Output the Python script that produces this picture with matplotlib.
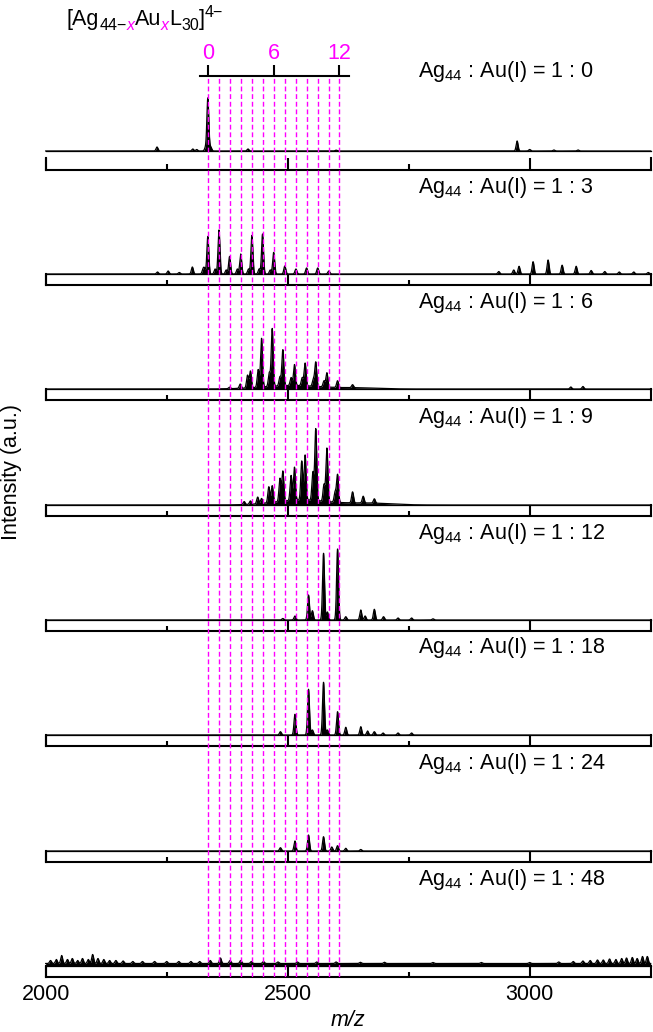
import numpy as np
import matplotlib
matplotlib.use("Agg")
import matplotlib.pyplot as plt

plt.rcParams['font.family'] = ['Liberation Sans', 'DejaVu Sans']
plt.rcParams['mathtext.fontset'] = 'custom'
plt.rcParams['mathtext.rm'] = 'Liberation Sans'
plt.rcParams['mathtext.it'] = 'Liberation Sans:italic'

# ---------------- data ----------------
ratios = ["1 : 0", "1 : 3", "1 : 6", "1 : 9", "1 : 12", "1 : 18", "1 : 24", "1 : 48"]
au_pos = [2335, 2358, 2380, 2403, 2426, 2448, 2471, 2494, 2517, 2539, 2562, 2585, 2607]
au_labels = ["0", "6", "12"]
xticks_major = [2000, 2500, 3000]
xticks_minor = [2250, 2750]

p1_mz = [2230, 2304, 2312, 2330, 2335, 2341, 2418, 2600, 2974, 3000, 3050, 3100]
p1_int = [4, 2, 1.5, 3, 53, 4, 2, 0.8, 10, 1.5, 1, 1]

p2_mz = [2231, 2253, 2276, 2303, 2325, 2328, 2335, 2350, 2358, 2373, 2380, 2396, 2403,
         2419, 2426, 2441, 2448, 2464, 2471, 2494, 2517, 2539, 2562, 2585,
         2936, 2967, 2978, 3007, 3038, 3067, 3096, 3127, 3155, 3185, 3215, 3245]
p2_int = [2, 3, 1.5, 7, 4, 5, 37.6, 5, 44, 4, 17.6, 5, 20,
          5, 38.6, 5, 40, 4, 21.6, 8, 5, 6, 6, 3,
          2.5, 4, 7.7, 12.3, 14, 8.8, 7.7, 3.5, 2.5, 2, 2, 1.5]

p3_mz = [2380, 2402, 2417, 2423, 2439, 2446, 2462, 2468, 2484, 2490, 2507, 2514, 2530,
         2536, 2553, 2558, 2575, 2581, 2603, 2634, 3085, 3110]
p3_int = [1.5, 4.3, 12.7, 16.7, 17.7, 48.7, 13.7, 57.7, 9, 36, 8, 21, 8,
          22.7, 7, 24.3, 6, 14.3, 6.7, 3, 2, 2.5]
p3_hump_mz = [2510, 2650]
p3_hump_int = [3.5, 1.0]
p3_hump_wd = [60, 40]

p4_mz = [2410, 2423, 2438, 2446, 2461, 2468, 2484, 2490, 2507, 2514, 2529, 2536, 2552,
         2558, 2575, 2581, 2598, 2603, 2634, 2656, 2679]
p4_int = [3, 3.3, 6.7, 5, 16, 16.7, 23, 30, 25, 33, 39, 45, 28,
          71.7, 16.7, 53.3, 10, 27.7, 11, 6.7, 4.3]
p4_hump_mz = [2530, 2670]
p4_hump_int = [5, 1.8]
p4_hump_wd = [55, 45]

p5_mz = [2490, 2515, 2543, 2551, 2574, 2582, 2603, 2620, 2651, 2660, 2679, 2698, 2728, 2756, 2800]
p5_int = [1.5, 4, 25, 9.3, 66.7, 8, 71, 3.3, 10, 4, 10.7, 3.3, 2, 2, 1.2]

p6_mz = [2485, 2515, 2543, 2551, 2574, 2582, 2603, 2620, 2651, 2665, 2679, 2697, 2728, 2756]
p6_int = [3.3, 20.7, 45.7, 5, 52.7, 5, 23.3, 7.7, 8.3, 4, 3.3, 2, 2, 2]

p7_mz = [2485, 2515, 2543, 2574, 2591, 2603, 2620, 2651]
p7_int = [3.3, 10, 16, 14.3, 4, 5.3, 2.7, 1.5]

p8_mz = [2010, 2022, 2033, 2045, 2055, 2066, 2076, 2088, 2097, 2108, 2120, 2132, 2145,
         2160, 2180, 2200, 2225, 2250, 2275, 2300, 2318, 2340, 2361, 2381, 2403, 2425,
         2450, 2480, 2520, 2560, 2600, 2650, 2700, 2800, 2900, 3000, 3060, 3090, 3110,
         3125, 3140, 3152, 3165, 3178, 3190, 3200, 3212, 3222, 3233, 3243]
p8_int = [3, 4, 8, 4, 5, 3, 5, 4, 9, 5, 4, 3, 3,
          2.5, 2, 2, 2, 2, 2, 2, 2, 3, 5.5, 3, 3, 2,
          2, 1.5, 1.5, 1.5, 1.5, 1.2, 1.2, 1, 1, 1, 1.5, 2, 2.5,
          3, 3.5, 3.5, 4.5, 4, 5, 5.5, 6, 5, 7, 7]
noise_floor = [0, 0, 0, 0, 0, 0, 0, 2.5]

peaks = [(p1_mz, p1_int), (p2_mz, p2_int), (p3_mz, p3_int), (p4_mz, p4_int),
         (p5_mz, p5_int), (p6_mz, p6_int), (p7_mz, p7_int), (p8_mz, p8_int)]
humps = {2: (p3_hump_mz, p3_hump_int, p3_hump_wd), 3: (p4_hump_mz, p4_hump_int, p4_hump_wd)}

# ---------------- layout ----------------
W, H = 653, 1032
fig = plt.figure(figsize=(W / 100, H / 100), dpi=100)
FS = 15.5


def fx(px):
    return px / W


def fy(py):
    return 1 - py / H


XMIN, XMAX = 2000, 3250
left_px, right_px = 45.7, 650.7
box_bottoms = [170, 285, 400, 516, 631, 746, 862, 977]
MAG = '#ff00ff'

xs = np.linspace(XMIN, XMAX, 12501)


def make_spec(mz, inten, sig=2.0):
    y = np.zeros_like(xs)
    for m, h in zip(mz, inten):
        y += h * np.exp(-0.5 * ((xs - m) / sig) ** 2)
    return y


for i in range(8):
    b = box_bottoms[i]
    bh = 12 if i == 0 else 11
    axb = fig.add_axes([fx(left_px), fy(b), fx(right_px - left_px), bh / H])
    axb.set_xlim(XMIN, XMAX)
    axb.set_ylim(0, 1)
    axb.set_yticks([])
    axb.patch.set_alpha(0)
    axb.spines['top'].set_visible(False)
    for s in ['left', 'right', 'bottom']:
        axb.spines[s].set_linewidth(1.5)
    axb.set_xticks(xticks_major)
    axb.set_xticks(xticks_minor, minor=True)
    axb.tick_params(which='major', direction='in', length=bh * 0.72, width=1.5,
                    labelsize=FS, pad=5, labelbottom=(i == 7))
    axb.tick_params(which='minor', direction='in', length=bh * 0.36, width=1.5)
    if i != 7:
        axb.set_xticklabels([])

    base = b - (19 if i == 0 else bh)
    axs = fig.add_axes([fx(left_px), fy(base), fx(right_px - left_px), 95 / H])
    axs.set_xlim(XMIN, XMAX)
    axs.set_ylim(0, 95)
    axs.axis('off')
    mz, inten = peaks[i]
    y = make_spec(mz, inten)
    if i in humps:
        hm, hi, hw = humps[i]
        for m, h, w in zip(hm, hi, hw):
            y += h * np.exp(-0.5 * ((xs - m) / w) ** 2)
    y = y + noise_floor[i]
    axs.fill_between(xs, 0, y, color='black', lw=0, clip_on=False)
    axs.plot(xs, y, color='black', lw=0.9, clip_on=False)
    axs.plot([XMIN, XMAX], [0, 0], color='black', lw=0.9, clip_on=False)

    fig.text(fx(418), fy(b - 98), r"Ag$_{44}$ : Au(I) = " + ratios[i], fontsize=FS,
             va='center', ha='left')

# dashed magenta guide lines
axd = fig.add_axes([fx(left_px), fy(977), fx(right_px - left_px), (977 - 76) / H])
axd.set_xlim(XMIN, XMAX)
axd.set_ylim(0, 1)
axd.axis('off')
for p in au_pos:
    axd.axvline(p, color=MAG, lw=1.0, dashes=(3.5, 2))

# top bracket axis
step = np.mean(np.diff(au_pos))
axt = fig.add_axes([fx(left_px), fy(76), fx(right_px - left_px), 0.0001])
axt.set_xlim(XMIN, XMAX)
axt.set_yticks([])
axt.patch.set_alpha(0)
for s in ['left', 'right', 'bottom']:
    axt.spines[s].set_visible(False)
axt.spines['top'].set_linewidth(1.5)
axt.spines['top'].set_bounds(au_pos[0] - 0.7 * step, au_pos[-1] + 0.9 * step)
axt.xaxis.set_ticks_position('top')
axt.set_xticks([au_pos[0], au_pos[6], au_pos[12]], au_labels)
axt.tick_params(axis='x', direction='out', length=8, width=1.5, labelsize=FS,
                labelcolor=MAG, pad=0.5)

# title with coloured pieces
renderer = fig.canvas.get_renderer()
SUB = 11.5
pieces = [("[Ag", FS, 'black', 'normal', 0), ("44\u2212", SUB, 'black', 'normal', -4.5),
          ("x", SUB, MAG, 'italic', -4.5), ("Au", FS, 'black', 'normal', 0),
          ("x", SUB, MAG, 'italic', -4.5), ("L", FS, 'black', 'normal', 0),
          ("30", SUB, 'black', 'normal', -4.5), ("]", FS, 'black', 'normal', 0),
          ("4\u2212", SUB, 'black', 'normal', 8)]
xcur = 67
for s, size, col, sty, dy in pieces:
    t = fig.text(fx(xcur), fy(25 - dy), s, fontsize=size, color=col, style=sty,
                 va='baseline', ha='left')
    xcur += t.get_window_extent(renderer).width

fig.text(fx(12), fy(472), "Intensity (a.u.)", rotation=90, fontsize=FS,
         va='center', ha='center')
fig.text(fx(348), fy(1020), "m/z", style='italic', fontsize=FS, va='center', ha='center')

fig.savefig("out.png", dpi=100)
